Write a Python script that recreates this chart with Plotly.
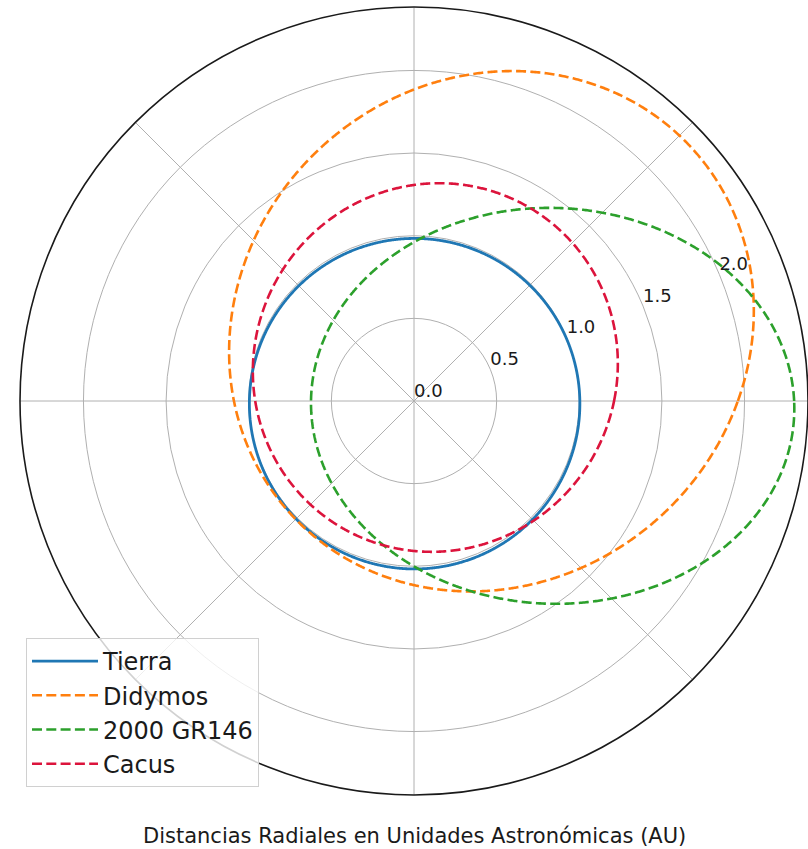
import numpy as np
import plotly.graph_objects as go

# Orbital elements of each body (heliocentric, projected on the ecliptic)
names = ["Tierra", "Didymos", "2000 GR146", "Cacus"]
semi_major_au = [1.000, 1.6426, 1.4625, 1.1227]
eccentricity = [0.0167, 0.3840, 0.574, 0.2140]
perihelion_deg = [102.9, 222.0, 178.0, 237.5]

colors = ["#1f77b4", "#ff7f0e", "#2ca02c", "#dc143c"]
dashes = ["solid", "10px,4.3px", "10px,4.3px", "10px,4.3px"]
widths = [2.8, 2.6, 2.6, 2.6]

radial_ticks = [0.0, 0.5, 1.0, 1.5, 2.0]
radial_max = 2.384
label_angle = 22.5

FONT = "DejaVu Sans"
TEXT = "#1a1a1a"

theta = np.linspace(0.0, 360.0, 1441)

fig = go.Figure()
for name, a, e, w, c, d, lw in zip(names, semi_major_au, eccentricity,
                                    perihelion_deg, colors, dashes, widths):
    r = a * (1 - e ** 2) / (1 + e * np.cos(np.radians(theta - w)))
    fig.add_trace(go.Scatterpolar(
        r=r, theta=theta, mode="lines", name=name,
        line=dict(color=c, width=lw, dash=d),
    ))

# radial tick labels along the 22.5 degree spoke, anchored at their radius
fig.add_trace(go.Scatterpolar(
    r=radial_ticks,
    theta=[label_angle] * len(radial_ticks),
    mode="text",
    text=[f"{v:.1f}" for v in radial_ticks],
    textposition="top right",
    textfont=dict(family=FONT, size=18, color=TEXT),
    showlegend=False,
    hoverinfo="skip",
))

W, H = 808, 849
cx, cy, R = 414, 401, 394

fig.update_layout(
    width=W, height=H,
    margin=dict(l=0, r=0, t=0, b=0),
    paper_bgcolor="white",
    font=dict(family=FONT, color=TEXT),
    showlegend=True,
    polar=dict(
        domain=dict(x=[(cx - R) / W, min(1.0, (cx + R) / W)],
                    y=[(H - cy - R) / H, (H - cy + R) / H]),
        bgcolor="white",
        radialaxis=dict(
            range=[0, radial_max],
            tickvals=radial_ticks,
            showticklabels=False,
            showline=False,
            ticks="",
            gridcolor="#b0b0b0",
            gridwidth=1.2,
        ),
        angularaxis=dict(
            tickmode="linear", tick0=0, dtick=45,
            showticklabels=False,
            ticks="",
            rotation=0,
            direction="counterclockwise",
            gridcolor="#b0b0b0",
            gridwidth=1.2,
            showline=True,
            linecolor="#1a1a1a",
            linewidth=1.6,
        ),
    ),
    legend=dict(
        x=26 / W, xanchor="left",
        y=(H - 638) / H, yanchor="top",
        bgcolor="rgba(255,255,255,0.8)",
        bordercolor="#d0d0d0",
        borderwidth=1,
        itemwidth=66,
        font=dict(family=FONT, size=24, color=TEXT),
        tracegroupgap=0,
    ),
    annotations=[dict(
        text="Distancias Radiales en Unidades Astronómicas (AU)",
        xref="paper", yref="paper",
        x=cx / W, y=(H - 836) / H,
        xanchor="center", yanchor="middle",
        showarrow=False,
        font=dict(family=FONT, size=21, color=TEXT),
    )],
)

fig.write_html("out.html")
